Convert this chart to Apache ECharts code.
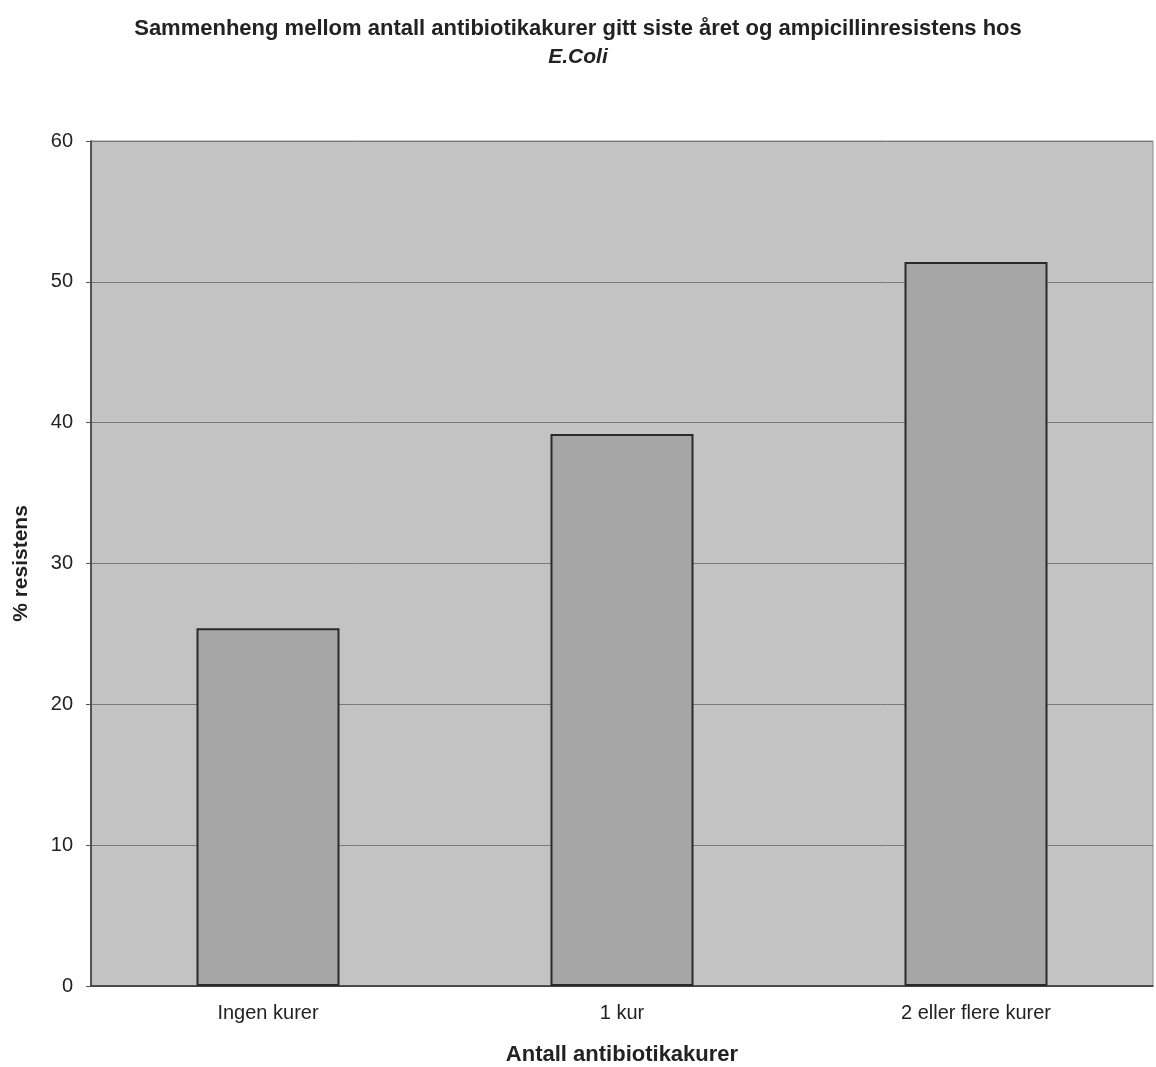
<!DOCTYPE html>
<html><head><meta charset="utf-8">
<script src="https://cdn.jsdelivr.net/npm/echarts@6/dist/echarts.min.js"></script>
<style>html,body{margin:0;padding:0;background:#fff}#c{width:1156px;height:1067px}</style>
</head><body><div id="c"></div>
<script>
const categories = ['Ingen kurer', '1 kur', '2 eller flere kurer'];
const values = [25.4, 39.2, 51.4];
const yTicks = [0, 10, 20, 30, 40, 50, 60];

const chart = echarts.init(document.getElementById('c'));
chart.setOption({
  animation: false,
  backgroundColor: '#ffffff',
  title: {
    text: '{a|Sammenheng mellom antall antibiotikakurer gitt siste året og ampicillinresistens hos}\n{b|E.Coli}',
    left: 'center', top: 10,
    textStyle: {
      rich: {
        a: { fontFamily: 'Liberation Sans, Arial', fontWeight: 'bold', fontSize: 22, color: '#222', lineHeight: 28 },
        b: { fontFamily: 'Liberation Sans, Arial', fontWeight: 'bold', fontStyle: 'italic', fontSize: 21, color: '#222', lineHeight: 28 }
      }
    }
  },
  grid: {
    left: 91, right: 3, top: 141, bottom: 81,
    outerBoundsMode: 'none',
    show: true, backgroundColor: '#c3c3c3', borderColor: '#8a8a8a', borderWidth: 1
  },
  xAxis: {
    type: 'category', data: categories,
    name: 'Antall antibiotikakurer', nameLocation: 'middle', nameGap: 58,
    nameTextStyle: { fontFamily: 'Liberation Sans, Arial', fontWeight: 'bold', fontSize: 22, color: '#222' },
    axisLine: { lineStyle: { color: '#333', width: 1.5 } },
    axisTick: { show: false },
    axisLabel: { fontFamily: 'Liberation Sans, Arial', fontSize: 20, color: '#222', margin: 17 }
  },
  yAxis: {
    type: 'value', min: 0, max: 60, interval: 10,
    name: '% resistens', nameLocation: 'middle', nameGap: 59,
    nameTextStyle: { fontFamily: 'Liberation Sans, Arial', fontWeight: 'bold', fontSize: 21, color: '#222' },
    axisLine: { show: true, lineStyle: { color: '#333', width: 1.5 } },
    axisTick: { show: true, length: 5, lineStyle: { color: '#555' } },
    axisLabel: { fontFamily: 'Liberation Sans, Arial', fontSize: 20, color: '#222', margin: 18,
      formatter: v => yTicks.includes(v) ? String(v) : '' },
    splitLine: { show: true, lineStyle: { color: '#7a7a7a', width: 1 } }
  },
  series: [{
    type: 'bar', data: values, barWidth: 143,
    itemStyle: { color: '#a6a6a6', borderColor: '#2a2a2a', borderWidth: 2 }
  }]
});
</script></body></html>
